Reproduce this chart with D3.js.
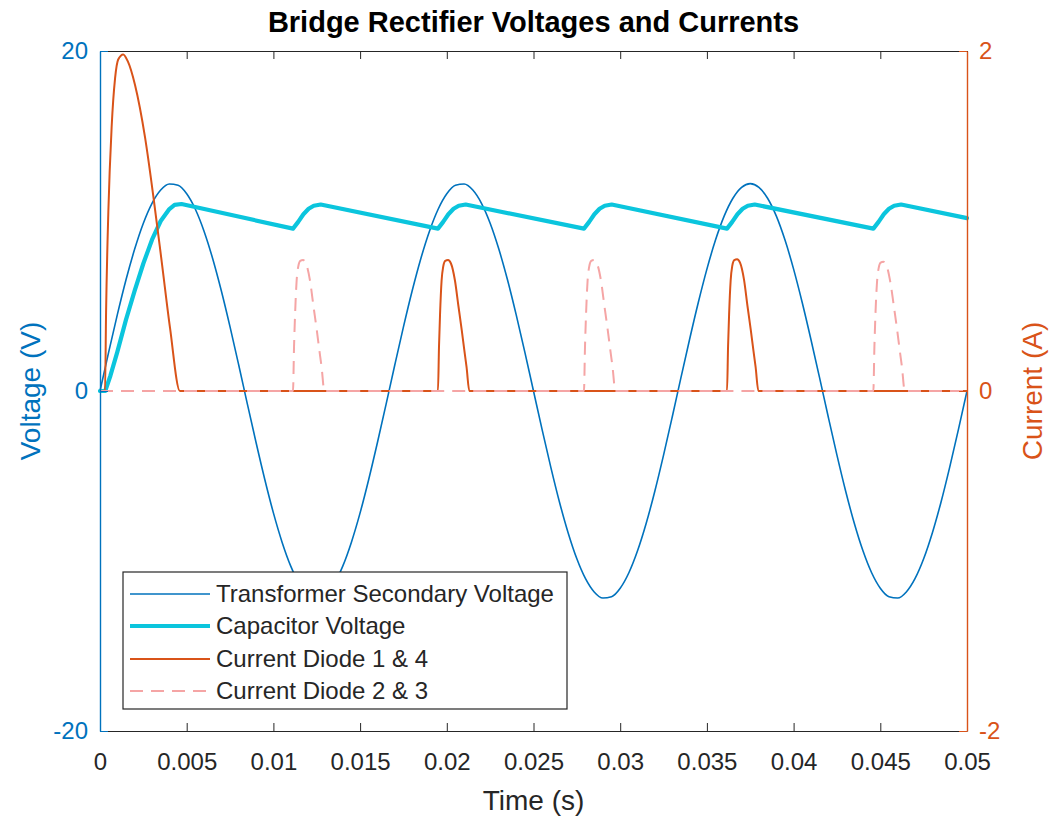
<!DOCTYPE html>
<html><head><meta charset="utf-8">
<script src="https://cdn.jsdelivr.net/npm/d3@7/dist/d3.min.js"></script>
<style>
body{margin:0;background:#fff}
svg{display:block;font-family:"Liberation Sans",Arial,Helvetica,sans-serif}
</style>
</head><body>
<svg id="chart" width="1052" height="823"></svg>
<script>
// ---------- data ----------
const chartTitle = "Bridge Rectifier Voltages and Currents";
const xLabel = "Time (s)";
const leftLabel = "Voltage (V)";
const rightLabel = "Current (A)";
const xDomain = [0, 0.05];
const leftDomain = [-20, 20];
const rightDomain = [-2, 2];
const xTicks = [0, 0.005, 0.01, 0.015, 0.02, 0.025, 0.03, 0.035, 0.04, 0.045, 0.05];
const xTickLabels = ["0", "0.005", "0.01", "0.015", "0.02", "0.025", "0.03", "0.035", "0.04", "0.045", "0.05"];
const leftTicks = [-20, 0, 20];
const leftTickLabels = ["-20", "0", "20"];
const rightTicks = [-2, 0, 2];
const rightTickLabels = ["-2", "0", "2"];
const seriesNames = ["Transformer Secondary Voltage", "Capacitor Voltage", "Current Diode 1 & 4", "Current Diode 2 & 3"];

// transformer secondary voltage, sampled every 0.5 ms from 0 to 0.05 s
const transformerStep = 0.0005;
const transformerVoltage = [
  0, 2.29, 4.49, 6.54, 8.35, 9.87, 11.04, 11.82, 12.18, 12.10,
  11.60, 10.69, 9.40, 7.78, 5.88, 3.77, 1.53, -0.77, -3.03, -5.19,
  -7.17, -8.89, -10.30, -11.34, -11.98, -12.2, -11.98, -11.34, -10.30, -8.89,
  -7.17, -5.19, -3.03, -0.77, 1.53, 3.77, 5.88, 7.78, 9.40, 10.69,
  11.60, 12.10, 12.18, 11.82, 11.04, 9.87, 8.35, 6.54, 4.49, 2.29,
  0, -2.29, -4.49, -6.54, -8.35, -9.87, -11.04, -11.82, -12.18, -12.10,
  -11.60, -10.69, -9.40, -7.78, -5.88, -3.77, -1.53, 0.77, 3.03, 5.19,
  7.17, 8.89, 10.30, 11.34, 11.98, 12.2, 11.98, 11.34, 10.30, 8.89,
  7.17, 5.19, 3.03, 0.77, -1.53, -3.77, -5.88, -7.78, -9.40, -10.69,
  -11.60, -12.10, -12.18, -11.82, -11.04, -9.87, -8.35, -6.54, -4.49, -2.29,
  0
];

// capacitor voltage
const capTime = [
  0, 0.0003, 0.0006, 0.001, 0.0015, 0.002, 0.0025, 0.003, 0.0035, 0.004, 0.0043, 0.0047,
  0.01113, 0.01143, 0.01173, 0.01203, 0.01233, 0.01273,
  0.01949, 0.01979, 0.02009, 0.02039, 0.02069, 0.02109,
  0.02791, 0.02821, 0.02851, 0.02881, 0.02911, 0.02951,
  0.03616, 0.03646, 0.03676, 0.03706, 0.03736, 0.03776,
  0.0446, 0.0449, 0.0452, 0.0455, 0.0458, 0.0462,
  0.05
];
const capVoltage = [
  0, 0, 0.9, 2.3, 4.2, 5.9, 7.5, 8.9, 10.0, 10.7, 10.95, 11.0,
  9.55, 9.95, 10.4, 10.72, 10.9, 10.97,
  9.55, 9.95, 10.4, 10.72, 10.9, 10.97,
  9.55, 9.95, 10.4, 10.72, 10.9, 10.97,
  9.55, 9.95, 10.4, 10.72, 10.9, 10.97,
  9.55, 9.95, 10.4, 10.72, 10.9, 10.97,
  10.17
];

// current through diodes 1 & 4
const d14Time = [
  0, 0.00029, 0.00035, 0.00048, 0.00067, 0.00087, 0.00105, 0.00134, 0.0016, 0.00202, 0.0026, 0.00307, 0.00356, 0.00404, 0.00461,
  0.01949, 0.01955, 0.01961, 0.0197, 0.01979, 0.01991, 0.02007, 0.02024, 0.02047, 0.02067, 0.02086, 0.02101, 0.02114, 0.0213,
  0.03616, 0.03622, 0.03628, 0.03637, 0.03646, 0.03658, 0.03674, 0.03691, 0.03714, 0.03734, 0.03753, 0.03768, 0.03781, 0.03797,
  0.05
];
const d14Current = [
  0, 0, 0.46, 1.05, 1.55, 1.84, 1.95, 1.98, 1.94, 1.8, 1.49, 1.15, 0.76, 0.37, 0,
  0, 0.26, 0.45, 0.65, 0.73, 0.765, 0.77, 0.75, 0.65, 0.5, 0.36, 0.24, 0.14, 0,
  0, 0.26, 0.45, 0.65, 0.735, 0.77, 0.775, 0.755, 0.655, 0.5, 0.36, 0.24, 0.14, 0,
  0
];

// current through diodes 2 & 3
const d23Time = [
  0,
  0.01113, 0.01119, 0.01125, 0.01134, 0.01143, 0.01155, 0.01171, 0.01188, 0.01211, 0.01231, 0.0125, 0.01265, 0.01278, 0.01294,
  0.02791, 0.02797, 0.02803, 0.02812, 0.02821, 0.02833, 0.02849, 0.02866, 0.02889, 0.02909, 0.02928, 0.02943, 0.02956, 0.02972,
  0.0446, 0.04466, 0.04472, 0.04481, 0.0449, 0.04502, 0.04518, 0.04535, 0.04558, 0.04578, 0.04597, 0.04612, 0.04625, 0.04641,
  0.05
];
const d23Current = [
  0,
  0, 0.26, 0.45, 0.65, 0.73, 0.765, 0.77, 0.75, 0.65, 0.5, 0.36, 0.24, 0.14, 0,
  0, 0.26, 0.45, 0.65, 0.73, 0.765, 0.77, 0.75, 0.65, 0.5, 0.36, 0.24, 0.14, 0,
  0, 0.26, 0.45, 0.64, 0.72, 0.755, 0.76, 0.74, 0.64, 0.5, 0.36, 0.24, 0.14, 0,
  0
];

// ---------- drawing ----------
const plot = {left: 100, right: 967, top: 51, bottom: 731};
const colors = {
  blue: "#0072BD", cyan: "#0BC5DD", orange: "#D95319", pink: "#F5A5A5", text: "#262626"
};
const FONT = "Liberation Sans, Arial, sans-serif";

const svg = d3.select("#chart");
const x = d3.scaleLinear().domain(xDomain).range([plot.left, plot.right]);
const yL = d3.scaleLinear().domain(leftDomain).range([plot.bottom, plot.top]);
const yR = d3.scaleLinear().domain(rightDomain).range([plot.bottom, plot.top]);

const transformerData = transformerVoltage.map((v, i) => ({t: i * transformerStep, v}));
const capData = capTime.map((t, i) => ({t, v: capVoltage[i]}));
const d14Data = d14Time.map((t, i) => ({t, v: d14Current[i]}));
const d23Data = d23Time.map((t, i) => ({t, v: d23Current[i]}));

svg.append("clipPath").attr("id", "plotclip").append("rect")
  .attr("x", plot.left - 2).attr("y", plot.top - 2)
  .attr("width", plot.right - plot.left + 4).attr("height", plot.bottom - plot.top + 4);

const g = svg.append("g").attr("clip-path", "url(#plotclip)");

g.append("path").datum(transformerData)
  .attr("d", d3.line().x(d => x(d.t)).y(d => yL(d.v)).curve(d3.curveMonotoneX))
  .attr("fill", "none").attr("stroke", colors.blue).attr("stroke-width", 1.6);

g.append("path").datum(capData)
  .attr("d", d3.line().x(d => x(d.t)).y(d => yL(d.v)).curve(d3.curveLinear))
  .attr("fill", "none").attr("stroke", colors.cyan).attr("stroke-width", 4.2)
  .attr("stroke-linejoin", "round").attr("stroke-linecap", "round");

g.append("path").datum(d14Data)
  .attr("d", d3.line().x(d => x(d.t)).y(d => yR(d.v)).curve(d3.curveMonotoneX))
  .attr("fill", "none").attr("stroke", colors.orange).attr("stroke-width", 2);

g.append("path").datum(d23Data)
  .attr("d", d3.line().x(d => x(d.t)).y(d => yR(d.v)).curve(d3.curveMonotoneX))
  .attr("fill", "none").attr("stroke", colors.pink).attr("stroke-width", 2)
  .attr("stroke-dasharray", "13,8");

// ---------- axes ----------
const tickLen = 8;
const axes = svg.append("g");

const bottomAxis = d3.axisBottom(x).tickValues(xTicks).tickFormat((d, i) => xTickLabels[i])
  .tickSizeInner(-tickLen).tickSizeOuter(0).tickPadding(22);
const bx = axes.append("g").attr("transform", `translate(0,${plot.bottom})`).call(bottomAxis);
bx.select(".domain").attr("stroke", colors.text).attr("stroke-width", 1.2);
bx.selectAll(".tick line").attr("stroke", colors.text);
bx.selectAll(".tick text").attr("fill", colors.text).attr("font-size", 24).attr("font-family", FONT);

const topAxis = d3.axisTop(x).tickValues(xTicks).tickFormat("").tickSizeInner(-tickLen).tickSizeOuter(0);
const tx = axes.append("g").attr("transform", `translate(0,${plot.top})`).call(topAxis);
tx.select(".domain").attr("stroke", colors.text).attr("stroke-width", 1.2);
tx.selectAll(".tick line").attr("stroke", colors.text);

const leftAxis = d3.axisLeft(yL).tickValues(leftTicks).tickFormat((d, i) => leftTickLabels[i])
  .tickSizeInner(-tickLen).tickSizeOuter(0).tickPadding(12);
const lx = axes.append("g").attr("transform", `translate(${plot.left},0)`).call(leftAxis);
lx.select(".domain").attr("stroke", colors.blue).attr("stroke-width", 1.4);
lx.selectAll(".tick line").attr("stroke", colors.blue);
lx.selectAll(".tick text").attr("fill", colors.blue).attr("font-size", 24).attr("font-family", FONT);

const rightAxis = d3.axisRight(yR).tickValues(rightTicks).tickFormat((d, i) => rightTickLabels[i])
  .tickSizeInner(-tickLen).tickSizeOuter(0).tickPadding(12);
const rx = axes.append("g").attr("transform", `translate(${plot.right},0)`).call(rightAxis);
rx.select(".domain").attr("stroke", colors.orange).attr("stroke-width", 1.4);
rx.selectAll(".tick line").attr("stroke", colors.orange);
rx.selectAll(".tick text").attr("fill", colors.orange).attr("font-size", 24).attr("font-family", FONT);

// labels
svg.append("text").attr("x", (plot.left + plot.right) / 2).attr("y", 810)
  .attr("text-anchor", "middle").attr("font-size", 28).attr("fill", colors.text).text(xLabel);
svg.append("text").attr("transform", `translate(40,${(plot.top + plot.bottom) / 2}) rotate(-90)`)
  .attr("text-anchor", "middle").attr("font-size", 28).attr("fill", colors.blue).text(leftLabel);
svg.append("text").attr("transform", `translate(1022,${(plot.top + plot.bottom) / 2}) rotate(-90)`)
  .attr("text-anchor", "middle").attr("dominant-baseline", "hanging").attr("font-size", 28).attr("fill", colors.orange).text(rightLabel);
svg.append("text").attr("x", (plot.left + plot.right) / 2).attr("y", 32)
  .attr("text-anchor", "middle").attr("font-size", 29).attr("font-weight", "bold").attr("fill", "#000").text(chartTitle);

// ---------- legend ----------
const legend = svg.append("g");
const lg = {x: 123, y: 572, w: 444, h: 137, rowY: [594, 626, 659, 691]};
legend.append("rect").attr("x", lg.x).attr("y", lg.y).attr("width", lg.w).attr("height", lg.h)
  .attr("fill", "#fff").attr("stroke", colors.text).attr("stroke-width", 1.2);
const legendStyles = [
  {stroke: colors.blue, width: 1.6, dash: null},
  {stroke: colors.cyan, width: 4.2, dash: null},
  {stroke: colors.orange, width: 2, dash: null},
  {stroke: colors.pink, width: 2, dash: "13,8"}
];
seriesNames.forEach((name, i) => {
  const yy = lg.rowY[i];
  const s = legendStyles[i];
  const ln = legend.append("line").attr("x1", 130).attr("x2", 210).attr("y1", yy).attr("y2", yy)
    .attr("stroke", s.stroke).attr("stroke-width", s.width);
  if (s.dash) ln.attr("stroke-dasharray", s.dash);
  legend.append("text").attr("x", 216).attr("y", yy).attr("dy", "0.35em")
    .attr("font-size", 24).attr("fill", colors.text).text(name);
});
</script>
</body></html>
